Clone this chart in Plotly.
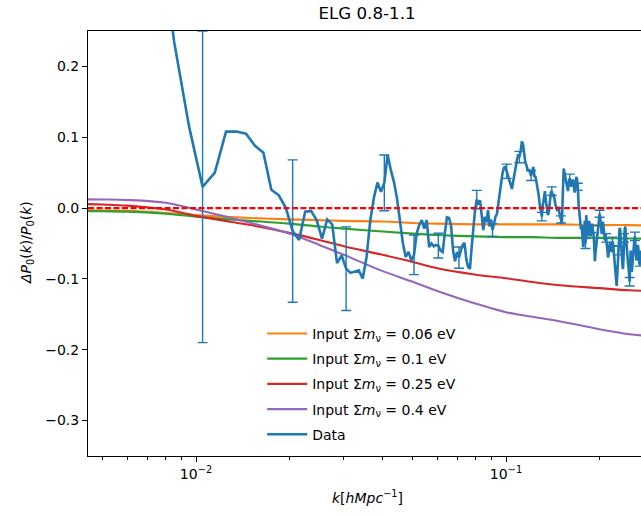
import plotly.graph_objects as go
import math

# ---------------- data ----------------
# measured k grid: k = 0.0075, 0.0085, ... (step 0.001)
k_first = 0.0075
k_step = 0.001
data_values = [
    0.42, 0.235, 0.115, 0.030, 0.050, 0.108, 0.108, 0.105, 0.088, 0.078, 0.026, 0.018, 0.0,
    -0.0325, -0.045, -0.005, -0.004, -0.017, -0.043, -0.016, -0.023, -0.0775, -0.067,
    -0.0855, -0.0915, -0.090, -0.088, -0.0995, -0.069, -0.017, 0.015, 0.036, 0.023,
    0.0356, 0.075, 0.054, 0.037, 0.014, -0.022, -0.050, -0.069, -0.062, -0.074,
    -0.066, -0.036, -0.024, -0.017, -0.029, -0.017, -0.055, -0.050, -0.054, -0.052,
    -0.053, -0.060, -0.062, -0.035, -0.013, -0.014, -0.025, -0.060, -0.075, -0.062,
    -0.070, -0.060, -0.052, -0.049, -0.073, -0.083, -0.086, -0.055, -0.022, -0.002,
    0.012, 0.005, 0.011, -0.008, -0.031, -0.012, -0.020, -0.003, -0.026, -0.016,
    -0.031, -0.022, -0.012, -0.008, 0.006, 0.026, 0.040, 0.050, 0.057, 0.058,
    0.052, 0.045, 0.040, 0.030, 0.027, 0.038, 0.050, 0.062, 0.068, 0.076,
    0.072, 0.080, 0.094, 0.090, 0.077, 0.064, 0.060, 0.052, 0.055, 0.050,
    0.046, 0.052, 0.058, 0.045, 0.044, 0.036, 0.028, 0.018, 0.005, -0.005,
    -0.012, 0.004, 0.012, 0.024, 0.010, 0.001, -0.010, -0.005, 0.012, 0.022,
    0.024, 0.016, 0.020, 0.008, 0.004, 0.0, -0.004, 0.002, -0.008, -0.012,
    -0.016, -0.022, 0.020, 0.056, 0.050, 0.042, 0.038, 0.030, 0.024, 0.036,
    0.042, 0.036, 0.030, 0.038, 0.040, 0.033, 0.022, 0.030, 0.044, 0.040,
    0.030, 0.005, -0.010, -0.022, -0.030, -0.024, -0.040, -0.055, -0.045, -0.018,
    -0.050, -0.010, -0.030, -0.040, -0.025, -0.018, -0.032, -0.040, -0.028, -0.022,
    -0.030, -0.036, -0.050, -0.075, -0.062, -0.052, -0.045, -0.030, -0.022, -0.015,
    -0.008, -0.015, -0.030, -0.036, -0.025, -0.019, -0.028, -0.040, -0.046, -0.036,
    -0.042, -0.050, -0.060, -0.070, -0.062, -0.052, -0.048, -0.058, -0.062, -0.056,
    -0.047, -0.050, -0.062, -0.072, -0.080, -0.092, -0.104, -0.110, -0.095, -0.072,
    -0.060, -0.040, -0.028, -0.030, -0.048, -0.062, -0.070, -0.080, -0.086, -0.060,
    -0.042, -0.030, -0.026, -0.040, -0.052, -0.050, -0.065, -0.078, -0.084, -0.100,
    -0.104, -0.080, -0.060, -0.075, -0.090, -0.082, -0.070, -0.066, -0.052, -0.044,
    -0.040, -0.048, -0.062, -0.074, -0.068, -0.058, -0.052, -0.060, -0.072, -0.080,
    -0.076, -0.066, -0.060, -0.070, -0.064,
]
# error bars drawn on every 10th point, starting at k = 0.0105
err_first_index = 3
err_every = 10
data_errors = [0.22, 0.1005, 0.059, 0.0394, 0.028, 0.0175, 0.015, 0.013, 0.009, 0.010,
               0.008, 0.007, 0.006, 0.006, 0.005, 0.006, 0.005, 0.007, 0.005, 0.005,
               0.006, 0.006, 0.006, 0.006, 0.006, 0.006, 0.006]

model_k = [0.004, 0.005, 0.006, 0.008, 0.01, 0.012, 0.015, 0.02, 0.025, 0.03, 0.04,
           0.05, 0.06, 0.08, 0.1, 0.12, 0.15, 0.2, 0.25, 0.3]
model_006 = [-0.003, -0.0035, -0.004, -0.007, -0.010, -0.012, -0.014, -0.016, -0.017, -0.018,
             -0.019, -0.021, -0.022, -0.023, -0.023, -0.023, -0.023, -0.024, -0.024, -0.025]
model_01 = [-0.004, -0.0045, -0.005, -0.008, -0.012, -0.015, -0.018, -0.022, -0.026, -0.029,
            -0.033, -0.036, -0.038, -0.040, -0.041, -0.041, -0.042, -0.042, -0.043, -0.043]
model_025 = [0.006, 0.005, 0.0035, -0.002, -0.011, -0.017, -0.024, -0.035, -0.045, -0.054,
             -0.066, -0.076, -0.085, -0.094, -0.099, -0.104, -0.109, -0.113, -0.116, -0.117]
model_04 = [0.0125, 0.0122, 0.0115, 0.0075, -0.002, -0.010, -0.021, -0.036, -0.052, -0.066,
            -0.089, -0.104, -0.117, -0.135, -0.147, -0.153, -0.160, -0.171, -0.178, -0.181]

model_names = ["Input Σ<i>m</i><sub>ν</sub> = 0.06 eV", "Input Σ<i>m</i><sub>ν</sub> = 0.1 eV",
               "Input Σ<i>m</i><sub>ν</sub> = 0.25 eV", "Input Σ<i>m</i><sub>ν</sub> = 0.4 eV"]
model_colors = ["#ff7f0e", "#2ca02c", "#d62728", "#9467bd"]

y_tickvals = [0.2, 0.1, 0.0, -0.1, -0.2, -0.3]
y_ticktext = ["0.2", "0.1", "0.0", "−0.1", "−0.2", "−0.3"]
x_tickvals = [0.01, 0.1]
x_ticktext = ["10<sup>−2</sup>", "10<sup>−1</sup>"]

# ---------------- figure ----------------
k_data = [round(k_first + k_step * i, 4) for i in range(len(data_values))]
err_idx = list(range(err_first_index, len(data_values), err_every))[:len(data_errors)]

FONT = "DejaVu Sans"
W, H = 641, 515
fig = go.Figure()

for i, (name, col, vals) in enumerate(zip(model_names, model_colors,
                                          [model_006, model_01, model_025, model_04])):
    fig.add_trace(go.Scatter(x=model_k, y=vals, mode="lines", name=name,
                             line=dict(color=col, width=2.1, shape="spline"),
                             legendgroup=f"g{i}", legendrank=i + 1))

fig.add_trace(go.Scatter(
    x=[k_data[i] for i in err_idx], y=[data_values[i] for i in err_idx],
    mode="markers", marker=dict(size=1, color="rgba(0,0,0,0)"),
    error_y=dict(type="data", array=data_errors, visible=True, color="#1f77b4",
                 thickness=1.4, width=5),
    showlegend=False, hoverinfo="skip"))

fig.add_trace(go.Scatter(x=k_data, y=data_values, mode="lines", name="Data",
                         line=dict(color="#1f77b4", width=2.6),
                         legendgroup="g5", legendrank=5))

fig.add_shape(type="line", xref="paper", x0=0, x1=1, yref="y", y0=0, y1=0,
              line=dict(color="red", width=2.1, dash="6px,2.5px"), layer="above")

minor_vals = [m * 10.0 ** e for e in (-3, -2, -1) for m in range(2, 10)]

fig.update_layout(
    width=W, height=H, autosize=False,
    margin=dict(l=88, r=0, t=31, b=59),
    paper_bgcolor="white", plot_bgcolor="white",
    font=dict(family=FONT, size=14, color="black"),
    title=dict(text="ELG 0.8-1.1", x=0.5045, xref="paper", xanchor="center",
               y=1 - 13 / 515, yref="container", yanchor="middle",
               font=dict(size=16.7, family=FONT)),
    showlegend=True,
    legend=dict(x=0.315, y=0.325, xanchor="left", yanchor="top",
                bgcolor="rgba(255,255,255,0.8)", borderwidth=0,
                font=dict(size=14, family=FONT), traceorder="grouped",
                tracegroupgap=4, itemwidth=40),
    xaxis=dict(type="log", range=[-2.3484, -0.5645], showgrid=False, zeroline=False,
               showline=True, linecolor="black", linewidth=1, mirror=True,
               ticks="outside", ticklen=5, tickwidth=1, tickcolor="black",
               tickmode="array", tickvals=x_tickvals, ticktext=x_ticktext,
               minor=dict(tickmode="array", tickvals=minor_vals, ticks="outside",
                          ticklen=3, tickwidth=0.8, tickcolor="black", showgrid=False)),
    yaxis=dict(range=[-0.35, 0.25], showgrid=False, zeroline=False,
               showline=True, linecolor="black", linewidth=1, mirror=False,
               ticks="outside", ticklen=5, tickwidth=1, tickcolor="black",
               tickmode="array", tickvals=y_tickvals, ticktext=y_ticktext),
)

fig.add_annotation(text="<i>ΔP</i><sub>0</sub>(<i>k</i>)/<i>P</i><sub>0</sub>(<i>k</i>)",
                   xref="paper", yref="paper", x=(27 - 88) / 553, y=(456 - 243) / 425,
                   xanchor="center", yanchor="middle", textangle=-90, showarrow=False,
                   font=dict(size=14, family=FONT))
fig.add_annotation(text="<i>k</i>[<i>hMpc</i><sup>−1</sup>]",
                   xref="paper", yref="paper", x=(367 - 88) / 553, y=-(497 - 456) / 425,
                   xanchor="center", yanchor="middle", showarrow=False,
                   font=dict(size=14, family=FONT))

post = ("document.documentElement.style.margin='0';"
        "document.body.style.margin='0';document.body.style.overflow='hidden';"
        "var gd=document.getElementById('{plot_id}');"
        "Plotly.relayout(gd,{width:%d,height:%d});" % (W, H))
fig.write_html("out.html", post_script=post, config={"displayModeBar": False})
